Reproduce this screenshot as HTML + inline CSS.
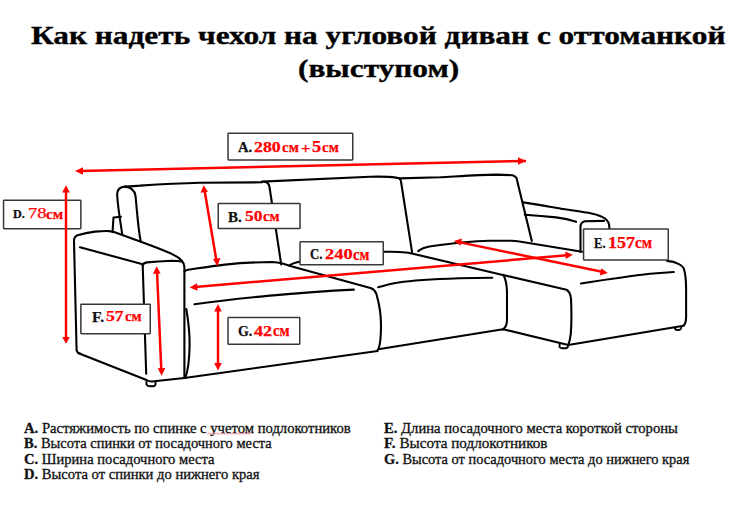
<!DOCTYPE html>
<html><head><meta charset="utf-8">
<style>
html,body{margin:0;padding:0;background:#fff;}
body{width:747px;height:512px;position:relative;overflow:hidden;font-family:"Liberation Serif",serif;}
.t{position:absolute;white-space:nowrap;transform-origin:0 0;}
.title{font-weight:bold;font-size:25px;line-height:28px;color:#000;-webkit-text-stroke:0.35px #000;}
.box{position:absolute;background:#fff;border:1.3px solid #3a3a3a;border-radius:1px;box-sizing:border-box;}
.lab{position:absolute;white-space:nowrap;font-weight:bold;line-height:1;transform-origin:0 0;-webkit-text-stroke:0.25px currentColor;}
.lab b{color:#111;}
.lab i{font-style:normal;color:#f00;}
.leg{font-size:14px;line-height:15px;color:#111;-webkit-text-stroke:0.3px #111;}
.leg b{font-weight:bold;}
svg{position:absolute;left:0;top:0;}
</style></head>
<body>
<div class="t title" id="t1" style="left:31px;top:21.6px;transform:scaleX(1.2526);">Как надеть чехол на угловой диван с оттоманкой</div>
<div class="t title" id="t2" style="left:298px;top:54.8px;transform:scaleX(1.2526);">(выступом)</div>

<svg width="747" height="512" viewBox="0 0 747 512">
<g fill="none" stroke="#000" stroke-width="2.1" stroke-linecap="round" stroke-linejoin="round">
<!-- back outline top -->
<path d="M122.3,234.6 C120,220 117,200 117.2,193.5 C117.5,188.5 120.5,187 125,186.6 C130,186.2 135,185.8 140,185.6 C160,184.3 180,183.2 200,182.7 L262,182.3"/>
<path d="M262,181.6 L370,176.8 C380,176.5 390,176.8 396,177.6 C397.5,177.9 398.6,178.3 399.3,178.4 C415,177.9 430,177.6 440,177.3 C460,176.2 480,174.8 496,174.6 L512.5,175.2 C514.5,175.8 515.8,176.5 516.5,178 L531.8,241"/>
<!-- left back cushion inner curve -->
<path d="M125,186.6 C131,187 134.5,190 135.5,196 C137,210 138,228 140.7,241.1"/>
<!-- small rect behind armrest -->
<path d="M112.5,232.2 L113.5,217.5 L121,216.8"/>
<!-- back separators -->
<path d="M264,181.5 C268,182 269,184 269.5,187 L281.2,264.4"/>
<path d="M399.3,178.4 C400.3,179 400.8,180 401,181.5 L412,251.9"/>
<!-- left armrest -->
<path d="M80,353.6 C78,353 77,352 76.6,350.5 L74,241 C74,238.5 75,236.3 77.5,235.3 C83,233.6 89,232.3 95,231.6 C100,231.2 105,231 108.7,231.1 C110.8,231.3 112.5,231.6 114,232 L147,244.1 C160,249 168,252.2 173.1,254.6 C177,256.5 180,258.5 181.8,260.7 C183.5,262.5 184.4,264 184.4,267 L184.4,378"/>
<path d="M80,247.3 L142.7,264.2"/>
<path d="M142.7,265.5 C143,263.8 144.5,262.8 147,262.4 C155,261.5 163,261 171.4,260.7 C175,260.7 179,260.9 181.8,261.5"/>
<path d="M142.7,265.5 L146.2,373.7"/>
<path d="M78,353 L146.5,380 C148,381 150,381.6 152,381.5 L184.4,378"/>
<!-- left seat cushion -->
<path d="M184.6,271.5 C185.2,270.3 186.3,270 188,269.7 C200,268 212,266.2 225,264.6 C240,263 255,262.2 272,262 C276,262.3 279,262.7 281.7,263.3 C285,264.2 288.5,265.3 292.1,266.5 L371.3,288.3 C374,289.5 375.5,291.5 376.4,294 C379,303 381,315 381,325 C381,340 380,348 377.1,350.8"/>
<path d="M186.3,309 C188.5,322 189.8,335 189.6,345 C189.4,360 187.5,372 185.3,378"/>
<path d="M194.5,304.3 C230,299 300,292 353.9,289.6"/>
<path d="M184.4,378 L377.6,351"/>
<!-- seat cushion 2 -->
<path d="M289.5,265.6 C292,263.6 295,262.6 299.3,261.7 L384,251.8 C395,251.5 402,252 408.5,252.7 L502.8,275 L566.5,289.7 C569,291 570.5,294 571,298.6 C571.5,310 571.5,325 570.8,333.7 C570.3,338 569.5,342 568.3,345"/>
<path d="M378.1,287.3 C386,285 392,283.5 398.6,282.5 C412,280.5 430,279.3 459,278.3 L492.3,277.7"/>
<path d="M503.2,274.8 C505.5,278.5 506.8,284 507,292 L507,320 C507,325 505,328 503,329.4"/>
<path d="M379.8,349 L503,329.2 L568.3,345 L683.5,325.7"/>
<!-- chaise top back edge -->
<path d="M418.2,251.1 C422,248 426,246.8 431,246.2 C455,243 470,241.2 488.8,240.8 L512,240.8 C517,241 520,241.5 524,242.2 L582,251.7"/>
<!-- chaise right -->
<path d="M667,260.9 C672,261.3 676,262.5 679,264.1 C681.5,265.3 683,266.5 683.8,268.5 C685.5,274 686.1,280 686.1,288 L686.1,316.9 C686.1,321 685.2,324 683.5,325.7"/>
<path d="M581,283.5 C610,279 630,276 650,273.8 L673.8,272"/>
<!-- chaise armrest -->
<path d="M523.5,202.4 C540,205 552,207.2 561,208.7 C572,210.3 581,211.6 588.4,212.8 C594,213.9 598.5,215.2 602.1,216.9 C605.5,218.5 608.2,221 609.1,224.5 L609.5,230"/>
<path d="M524.8,214.8 C535,215.5 545,216.3 556.1,217.4 C563,218.3 570,219.8 576.1,221.8"/>
<path d="M580.5,252 L580.5,226.1 C580.8,223.5 582,222 585,221.3 L604,220.9"/>
<!-- feet -->
<path d="M146.4,381.5 L146.5,384.5 C147,385.8 148.5,386.2 150.5,386.2 L153.5,386.2 C155,386 155.6,385 155.6,383.5 L155.5,381.5" stroke-width="1.9"/>
<path d="M559.6,343.8 L559.6,347 C560,348 561,348.2 562,348.2 L566,348.2 C567.5,348 568.1,347.2 568.1,345.5" stroke-width="1.9"/>
<path d="M674.5,327.5 C675,329.5 676.5,330.3 678.5,330.2 C680,330 681,329 681.3,327.5" stroke-width="1.8"/>
</g>

<!-- red arrows -->
<g stroke="#f00" stroke-width="2.5" fill="#f00" stroke-linecap="butt">
<line x1="80" y1="171" x2="526" y2="160.9"/>
<path d="M75,171 L83,167.3 L83,174.7 Z" stroke="none"/>
<path d="M526,160.9 L518,157.3 L518,164.7 Z" stroke="none"/>
<line x1="204.6" y1="190.5" x2="216.5" y2="261"/>
<path d="M203.6,185.2 L200.6,192.8 L208,191.7 Z" stroke="none"/>
<path d="M217.4,266.3 L213,259 L220.4,257.9 Z" stroke="none"/>
<line x1="195" y1="287" x2="567" y2="255.3"/>
<path d="M189.6,287.5 L197,283.3 L197.6,290.7 Z" stroke="none"/>
<path d="M572.8,254.8 L565.2,251.6 L565.8,259 Z" stroke="none"/>
<line x1="459" y1="242.1" x2="602" y2="271.8"/>
<path d="M453.9,241 L462,238.5 L460.5,245.7 Z" stroke="none"/>
<path d="M607.8,273 L599.8,275.5 L601.3,268.3 Z" stroke="none"/>
<line x1="157" y1="271" x2="161.3" y2="370"/>
<path d="M156.6,266.2 L153,273.8 L160.6,273.5 Z" stroke="none"/>
<path d="M161.6,375.7 L157.7,368.2 L165.3,367.9 Z" stroke="none"/>
<line x1="218" y1="310" x2="218" y2="365"/>
<path d="M218,304.1 L214.2,311.6 L221.8,311.6 Z" stroke="none"/>
<path d="M218,370.6 L214.2,363.1 L221.8,363.1 Z" stroke="none"/>
</g>
</svg>

<!-- label boxes -->
<svg width="747" height="512" viewBox="0 0 747 512" style="position:absolute;left:0;top:0">
<g fill="#fff" stroke="#383838" stroke-width="1.5">
<rect x="228.05" y="133.35" width="124.70" height="26.60" rx="0.6"/>
<rect x="3.55" y="200.15" width="77.30" height="28.50" rx="0.6"/>
<rect x="218.25" y="203.55" width="81.80" height="25.00" rx="0.6"/>
<rect x="300.05" y="241.65" width="83.20" height="23.20" rx="0.6"/>
<rect x="583.55" y="229.05" width="84.70" height="30.90" rx="0.6"/>
<rect x="80.85" y="304.25" width="69.40" height="29.40" rx="0.6"/>
<rect x="228.05" y="317.55" width="71.70" height="26.80" rx="0.6"/>
</g></svg>
<!-- label texts -->
<div class="lab" style="left:254.05px;top:139.05px;font-size:15.3px;transform:scaleX(1.167);color:#f00">280</div>
<div class="lab" style="left:281.60px;top:139.65px;font-size:14.79px;transform:scaleX(1.01);color:#f00">см</div>
<div class="lab" style="left:300.75px;top:141.30px;font-size:15.0px;transform:scaleX(1.1);color:#f00">+</div>
<div class="lab" style="left:312.45px;top:138.95px;font-size:15.69px;transform:scaleX(1.169);color:#f00">5</div>
<div class="lab" style="left:321.80px;top:139.65px;font-size:14.79px;transform:scaleX(1.01);color:#f00">см</div>
<div class="lab" style="left:244.80px;top:209.15px;font-size:15.0px;transform:scaleX(1.164);color:#f00">50</div>
<div class="lab" style="left:262.90px;top:207.95px;font-size:15.64px;transform:scaleX(0.952);color:#f00">см</div>
<div class="lab" style="left:324.75px;top:245.95px;font-size:15.15px;transform:scaleX(1.214);color:#f00">240</div>
<div class="lab" style="left:352.65px;top:246.50px;font-size:15.86px;transform:scaleX(0.919);color:#f00">см</div>
<div class="lab" style="left:608.2px;top:235.3px;font-size:16.62px;transform:scaleX(1.08);color:#f00">157</div>
<div class="lab" style="left:635.25px;top:235.15px;font-size:16.5px;transform:scaleX(0.92);color:#f00">см</div>
<div class="lab" style="left:106.15px;top:308.10px;font-size:15.38px;transform:scaleX(1.144);color:#f00">57</div>
<div class="lab" style="left:124.80px;top:307.95px;font-size:15.64px;transform:scaleX(0.952);color:#f00">см</div>
<div class="lab" style="left:253.85px;top:323.70px;font-size:15.0px;transform:scaleX(1.207);color:#f00">42</div>
<div class="lab" style="left:272.90px;top:323.05px;font-size:16.29px;transform:scaleX(0.91);color:#f00">см</div>
<div class="lab" style="left:238.05px;top:139.70px;font-size:15.03px;transform:scaleX(0.975);color:#111">A.</div>
<div class="lab" style="left:12.75px;top:208.1px;font-size:12.36px;transform:scaleX(0.987);color:#111">D.</div>
<div class="lab" style="left:228.45px;top:209.60px;font-size:14.44px;transform:scaleX(1.045);color:#111">B.</div>
<div class="lab" style="left:309.95px;top:247.75px;font-size:14.0px;transform:scaleX(0.914);color:#111">C.</div>
<div class="lab" style="left:593.95px;top:235.95px;font-size:14.29px;transform:scaleX(0.882);color:#111">E.</div>
<div class="lab" style="left:91.55px;top:310.80px;font-size:13.85px;transform:scaleX(1.138);color:#111">F.</div>
<div class="lab" style="left:237.95px;top:323.50px;font-size:14.29px;transform:scaleX(0.974);color:#111">G.</div>
<div class="lab" style="left:27.65px;top:205.00px;font-size:15.3px;font-weight:normal;transform:scaleX(1.22);color:#f00">78</div>
<div class="lab" style="left:46.10px;top:206.90px;font-size:14.14px;transform:scaleX(1.087);color:#f00">см</div>
<svg width="747" height="512" viewBox="0 0 747 512" style="position:absolute;left:0;top:0">
<g stroke="#f00" stroke-width="2.5" fill="#f00">
<line x1="66" y1="190" x2="66" y2="338"/>
<path d="M66,185.2 L62.2,192.5 L69.8,192.5 Z" stroke="none"/>
<path d="M66,343.8 L62.2,337 L69.8,337 Z" stroke="none"/>
</g></svg>
<!-- legend -->
<div class="t leg" id="l1" style="left:24px;top:421px;transform:scaleX(1.047);"><b>A.</b> Растяжимость по спинке с учетом подлокотников</div>
<div class="t leg" id="l2" style="left:24px;top:436.3px;transform:scaleX(1.033);"><b>B.</b> Высота спинки от посадочного места</div>
<div class="t leg" id="l3" style="left:24px;top:451.5px;transform:scaleX(1.040);"><b>C.</b> Ширина посадочного места</div>
<div class="t leg" id="l4" style="left:24px;top:466.7px;transform:scaleX(1.041);"><b>D.</b> Высота от спинки до нижнего края</div>
<div class="t leg" id="r1" style="left:384.2px;top:421px;transform:scaleX(1.046);"><b>E.</b> Длина посадочного места короткой стороны</div>
<div class="t leg" id="r2" style="left:384.2px;top:436.3px;transform:scaleX(1.083);"><b>F.</b> Высота подлокотников</div>
<div class="t leg" id="r3" style="left:384.2px;top:451.5px;transform:scaleX(1.029);"><b>G.</b> Высота от посадочного места до нижнего края</div>
<svg width="747" height="512" viewBox="0 0 747 512" style="position:absolute;left:0;top:0">
<path d="M207,434.2 l1.5,-1 l1.5,1 l1.5,-1 l1.5,1 l1.5,-1 l1.5,1 l1.5,-1 l1.5,1 l1.5,-1 l1.5,1 l1.5,-1 l1.5,1 l1.5,-1 l1.5,1 l1.5,-1 l1.5,1 l1.5,-1 l1.5,1 l1.5,-1 l1.5,1 l1.5,-1 l1.5,1 l1.5,-1 l1.5,1 l1.5,-1 l1.5,1 l1.5,-1 l1.5,1 l1.5,-1" fill="none" stroke="#ee5566" stroke-width="0.9" opacity="0.8"/>
</svg>
</body></html>
